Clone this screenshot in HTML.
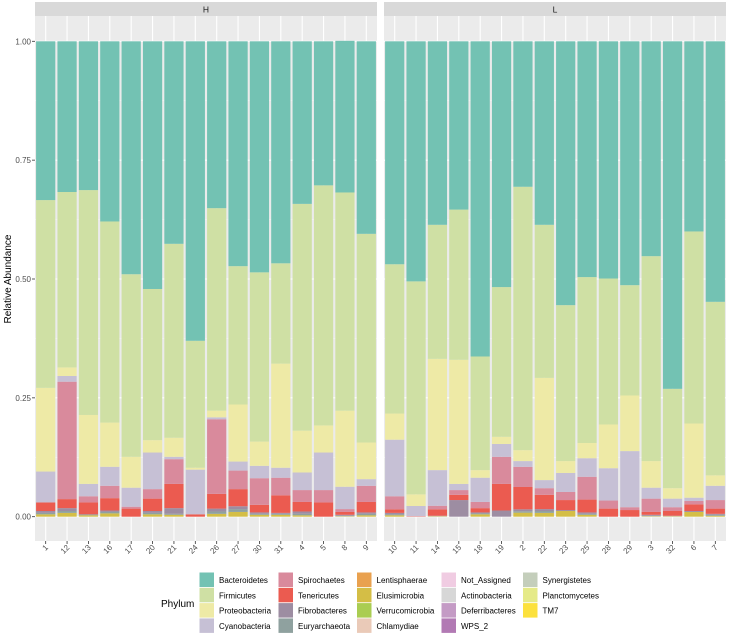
<!DOCTYPE html>
<html><head><meta charset="utf-8"><style>
body{margin:0;background:#fff;}
svg{display:block;font-family:"Liberation Sans",sans-serif;}
</style></head><body>
<svg id="chart" width="730" height="640"></svg>
<script>
const samplesH=["1","12","13","16","17","20","21","24","26","27","30","31","4","5","8","9"];
const samplesL=["10","11","14","15","18","19","2","22","23","25","28","29","3","32","6","7"];
const phyla=["Bacteroidetes","Firmicutes","Proteobacteria","Cyanobacteria","Spirochaetes","Tenericutes","Fibrobacteres","Euryarchaeota","Lentisphaerae","Elusimicrobia","Verrucomicrobia","Chlamydiae","Not_Assigned","Actinobacteria","Deferribacteres","WPS_2","Synergistetes","Planctomycetes","TM7"];
const colors=["#73c2b3","#cfe0a4","#eeeaa6","#c6c0d5","#d98a9c","#eb5b50","#9d8da2","#8fa19f","#e9a14f","#d4be46","#aacd52","#eacab8","#f0cce2","#d7d7d7","#c49bc5","#b27ab4","#c4cebb","#e5ea88","#fce13d"];
// H values
const bactH=[.334,.317,.313,.379,.490,.521,.426,.630,.351,.473,.486,.467,.342,.303,.319,.405];
const firmH=[.395,.369,.473,.423,.384,.318,.408,.267,.426,.291,.356,.211,.477,.505,.459,.439];
const protH=[.176,.018,.145,.093,.065,.026,.040,.004,.014,.120,.051,.219,.088,.057,.160,.077];
const cyanH=[.065,.012,.026,.040,.040,.077,.005,.094,.004,.019,.026,.021,.037,.079,.047,.014];
const spirH=[.000,.247,.013,.026,.004,.020,.052,.000,.157,.039,.056,.037,.025,.026,.006,.034];
const tenH=[.018,.019,.025,.026,.017,.026,.051,.005,.031,.036,.016,.037,.020,.030,.006,.022];
const fibH=[.004,.006,.000,.003,0,.004,.012,0,.006,.006,.003,.002,.005,0,.002,.003];
const euryH=[.003,.004,.002,.003,0,.003,.002,0,.005,.006,.002,.002,.003,0,.001,.003];
const elusH=[.005,.008,.003,.007,0,.005,.004,0,.006,.010,.004,.004,.003,0,.001,.003];
// L values
const bactL=[.469,.505,.386,.354,.663,.517,.306,.386,.555,.496,.499,.513,.452,.731,.400,.548];
const firmL=[.314,.448,.282,.316,.239,.315,.554,.322,.328,.349,.307,.232,.431,.209,.404,.365];
const protL=[.055,.0245,.234,.261,.016,.015,.023,.215,.025,.032,.092,.117,.056,.022,.156,.022];
const cyanL=[.119,.0215,.075,.013,.051,.027,.012,.017,.040,.039,.068,.118,.023,.018,.007,.030];
const spirL=[.0275,0,.0075,.010,.013,.057,.0425,.014,.017,.048,.017,.006,.028,.008,.007,.018];
const tenL=[.0075,.001,.0135,.011,.009,.056,.047,.030,.021,.027,.017,.014,.006,.010,.014,.011];
const fibL=[.003,0,.001,.035,.002,.013,.004,.004,.002,.003,0,0,.002,.001,.002,.002];
const euryL=[.002,0,0,0,.002,0,.003,.004,0,.002,0,0,.001,0,0,.002];
const elusL=[.003,0,.001,0,.005,0,.0085,.008,.012,.004,0,0,.001,.001,.010,.002];
const yTicks=[0,0.25,0.5,0.75,1];
const yTickLabels=["0.00","0.25","0.50","0.75","1.00"];

const NS="http://www.w3.org/2000/svg";
const svg=document.getElementById('chart');
function mk(tag,attrs,parent){const e=document.createElementNS(NS,tag);for(const k in attrs)e.setAttribute(k,attrs[k]);(parent||svg).appendChild(e);return e;}
const yTop=16,yBot=541;
function y(v){return 516.7-v*475.4;}
const panels=[
 {label:"H",x0:35,x1:377,samples:samplesH,series:[bactH,firmH,protH,cyanH,spirH,tenH,fibH,euryH,elusH]},
 {label:"L",x0:384,x1:726,samples:samplesL,series:[bactL,firmL,protL,cyanL,spirL,tenL,fibL,euryL,elusL]}
];
const seriesIdx=[0,1,2,3,4,5,6,7,9];
panels.forEach((p,pi)=>{
  const g=mk('g',{});
  
  
  const bg=mk('rect',{x:p.x0,y:yTop,width:p.x1-p.x0,height:yBot-yTop,fill:'#ebebeb'},g);
  
  
  const st=mk('rect',{x:p.x0,y:2,width:p.x1-p.x0,height:14,fill:'#d9d9d9'},g);
  
  
  const sl=mk('text',{x:(p.x0+p.x1)/2,y:12.5,'font-size':8.5,fill:'#1a1a1a','text-anchor':'middle'},g);
  sl.textContent=p.label;
  
  
  for(let i=0;i<yTicks.length-1;i++){
    const mv=(yTicks[i]+yTicks[i+1])/2;
    mk('line',{x1:p.x0,x2:p.x1,y1:y(mv),y2:y(mv),stroke:'#f5f5f5','stroke-width':0.6},g);
  }
  yTicks.forEach(t=>{mk('line',{x1:p.x0,x2:p.x1,y1:y(t),y2:y(t),stroke:'#fff','stroke-width':1.1},g);});
  const step=(p.x1-p.x0)/p.samples.length, bw=step*0.9;
  p.samples.forEach((s,i)=>{
    const cx=p.x0+(i+0.5)*step;
    mk('line',{x1:cx,x2:cx,y1:yTop,y2:yBot,stroke:'#fff','stroke-width':1.1},g);
  });
  p.samples.forEach((s,i)=>{
    const cx=p.x0+(i+0.5)*step;
    let cum=0;
    for(let k=p.series.length-1;k>=0;k--){
      const v=p.series[k][i];
      if(v<=0) continue;
      const r=mk('rect',{x:cx-bw/2,y:y(cum+v),width:bw,height:y(cum)-y(cum+v),fill:colors[seriesIdx[k]]},g);
      
      
      cum+=v;
    }
    mk('line',{x1:cx,x2:cx,y1:yBot,y2:yBot+3,stroke:'#333','stroke-width':0.8},g);
    const tl=mk('text',{x:cx+3,y:yBot+7,'font-size':8,fill:'#4d4d4d','text-anchor':'end',transform:`rotate(-45 ${cx+3} ${yBot+7})`},g);
    tl.textContent=s;
    
    
  });
  if(pi===0){
    yTicks.forEach((t,i)=>{
      mk('line',{x1:p.x0-3,x2:p.x0,y1:y(t),y2:y(t),stroke:'#333','stroke-width':0.8});
      const tl=mk('text',{x:p.x0-4,y:y(t)+3,'font-size':8,fill:'#4d4d4d','text-anchor':'end'});
      tl.textContent=yTickLabels[i];
      
      
    });
  }
});
const yt=mk('text',{x:11,y:279,'font-size':10,fill:'#000','text-anchor':'middle',transform:'rotate(-90 11 279)'});
yt.textContent='Relative Abundance';


// legend
const lg=mk('g',{});


const lt=mk('text',{x:161,y:607,'font-size':10,fill:'#000'},lg);
lt.textContent='Phylum';


const colX=[199.5,278.5,357,441.5,523];
phyla.forEach((ph,i)=>{
  const c=Math.floor(i/4), r=i%4;
  const kx=colX[c], ky=572.5+r*15.3;
  const e=mk('g',{},lg);
  
  
  mk('rect',{x:kx,y:ky,width:14.5,height:14.5,fill:colors[i]},e);
  const t=mk('text',{x:kx+19.5,y:ky+10.5,'font-size':8,fill:'#000'},e);
  t.textContent=ph;
});
</script>
</body></html>
